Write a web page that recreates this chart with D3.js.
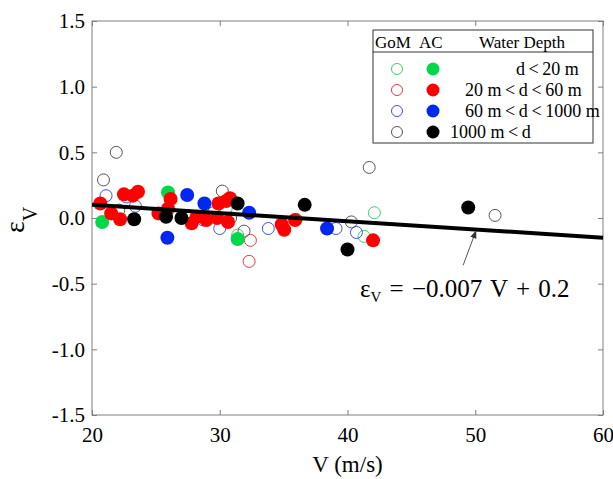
<!DOCTYPE html>
<html>
<head>
<meta charset="utf-8">
<script src="https://cdn.jsdelivr.net/npm/d3@7"></script>
<style>
  body { margin: 0; background: #fff; }
  svg text { font-family: "Liberation Serif", "Times New Roman", serif; }
</style>
</head>
<body>
<svg id="chart" width="613" height="479"></svg>
<script>
// values (V in m/s, eps dimensionless)
var xTicks = [20, 30, 40, 50, 60];
var yTicks = [-1.5, -1.0, -0.5, 0.0, 0.5, 1.0, 1.5];

// GoM = open markers, AC = filled markers
var gomShallowV = [30.5, 31.4, 36.0, 42.1, 41.3];
var gomShallowE = [0.07, -0.13, -0.01, 0.04, -0.14];
var gomMidV = [32.4, 32.3];
var gomMidE = [-0.17, -0.33];
var gomDeepV = [21.1, 22.7, 23.4, 28.7, 29.5, 30.0, 33.8, 39.1, 40.7];
var gomDeepE = [0.17, 0.16, 0.09, -0.015, 0.04, -0.08, -0.08, -0.08, -0.11];
var gomUltraV = [21.9, 20.9, 22.1, 30.2, 30.85, 31.9, 41.7, 40.3, 51.55];
var gomUltraE = [0.50, 0.29, 0.06, 0.205, 0.0, -0.10, 0.385, -0.03, 0.02];

var acShallowV = [20.8, 25.95, 31.4];
var acShallowE = [-0.03, 0.195, -0.16];
var acMidV = [20.65, 21.5, 22.2, 22.5, 23.2, 23.6, 25.2, 25.95, 26.15, 27.8, 28.2, 28.95,
              29.8, 29.9, 30.5, 30.8, 30.65, 34.85, 35.05, 35.9, 42.0];
var acMidE = [0.11, 0.035, -0.01, 0.18, 0.17, 0.20, 0.035, 0.07, 0.145, -0.04, 0.01, -0.015,
              0.0, 0.11, 0.13, 0.15, -0.03, -0.05, -0.09, -0.015, -0.17];
var acDeepV = [27.45, 28.8, 25.9, 32.3, 38.4];
var acDeepE = [0.175, 0.11, -0.15, 0.04, -0.08];
var acUltraV = [23.3, 25.8, 27.0, 31.4, 36.65, 40.0, 49.45];
var acUltraE = [-0.01, 0.01, 0.0, 0.11, 0.10, -0.24, 0.08];

// fitted line as drawn
var fitV = [20, 60];
var fitE = [0.10, -0.15];
// arrow from label to the line
var arrowV = [49.05, 50.05];
var arrowE = [-0.36, -0.10];

var depthLabels = ["d\u2009<\u200920 m", "20 m\u2009<\u2009d\u2009<\u200960 m",
                   "60 m\u2009<\u2009d\u2009<\u20091000 m", "1000 m\u2009<\u2009d"];

var openColors = ["#3fcf66", "#e23b3b", "#4050dd", "#555555"];
var fillColors = ["#00d84a", "#ff0000", "#0028f0", "#000000"];

var plotL = 92, plotR = 603, plotT = 21, plotB = 415;
var SERIF = "'Liberation Serif', 'Times New Roman', serif";

var svg = d3.select("#chart");
var x = d3.scaleLinear().domain([20, 60]).range([plotL, plotR]);
var y = d3.scaleLinear().domain([-1.5, 1.5]).range([plotB, plotT]);

function pairs(vs, es) {
    return vs.map(function(v, i) { return [v, es[i]]; });
}

// axes with inward ticks
svg.append("g").attr("transform", "translate(0," + plotB + ")")
    .call(d3.axisBottom(x).tickValues(xTicks).tickSize(-5).tickPadding(12).tickFormat(d3.format("d")));
svg.append("g").attr("transform", "translate(" + plotL + ",0)")
    .call(d3.axisLeft(y).tickValues(yTicks).tickSize(-5).tickPadding(7).tickFormat(function(d) {
        return d3.format(".1f")(d).replace("\u2212", "-");
    }));
svg.append("g").attr("transform", "translate(0," + plotT + ")")
    .call(d3.axisTop(x).tickValues(xTicks).tickSize(-5).tickFormat(""));
svg.append("g").attr("transform", "translate(" + plotR + ",0)")
    .call(d3.axisRight(y).tickValues(yTicks).tickSize(-5).tickFormat(""));

svg.selectAll(".domain").remove();
svg.selectAll(".tick line").attr("stroke", "#808080");
svg.selectAll(".tick text").attr("fill", "#000")
    .style("font-family", SERIF).style("font-size", "21px");

svg.append("rect").attr("x", plotL).attr("y", plotT)
    .attr("width", plotR - plotL).attr("height", plotB - plotT)
    .attr("fill", "none").attr("stroke", "#808080").attr("stroke-width", 1);

// axis titles
svg.append("text").attr("x", (plotL + plotR) / 2).attr("y", 472)
    .attr("text-anchor", "middle").style("font-size", "23px").text("V (m/s)");

var yl = svg.append("text").attr("transform", "translate(24,220) rotate(-90)")
    .attr("text-anchor", "middle").style("font-size", "28px");
yl.append("tspan").text("\u03b5");
yl.append("tspan").style("font-size", "20px").attr("dy", 13).text("V");

// markers
var gOpen = [[gomShallowV, gomShallowE], [gomMidV, gomMidE], [gomDeepV, gomDeepE], [gomUltraV, gomUltraE]];
var gFill = [[acShallowV, acShallowE], [acMidV, acMidE], [acDeepV, acDeepE], [acUltraV, acUltraE]];

var plot = svg.append("g");
gOpen.forEach(function(s, k) {
    plot.selectAll(null).data(pairs(s[0], s[1])).enter().append("circle")
        .attr("cx", function(d) { return x(d[0]); })
        .attr("cy", function(d) { return y(d[1]); })
        .attr("r", 6).attr("fill", "none")
        .attr("stroke", openColors[k]).attr("stroke-width", 1);
});
gFill.forEach(function(s, k) {
    plot.selectAll(null).data(pairs(s[0], s[1])).enter().append("circle")
        .attr("cx", function(d) { return x(d[0]); })
        .attr("cy", function(d) { return y(d[1]); })
        .attr("r", 7).attr("fill", fillColors[k]);
});

// regression line
svg.append("path").datum(pairs(fitV, fitE))
    .attr("d", d3.line().x(function(d) { return x(d[0]); }).y(function(d) { return y(d[1]); }))
    .attr("stroke", "#000").attr("stroke-width", 4).attr("fill", "none");

// arrow + equation
svg.append("defs").append("marker").attr("id", "ah")
    .attr("viewBox", "0 0 10 10").attr("refX", 9).attr("refY", 5)
    .attr("markerWidth", 8).attr("markerHeight", 8).attr("orient", "auto")
    .append("path").attr("d", "M0,1 L10,5 L0,9 Z").attr("fill", "#333");
svg.append("line")
    .attr("x1", x(arrowV[0])).attr("y1", y(arrowE[0]))
    .attr("x2", x(arrowV[1])).attr("y2", y(arrowE[1]))
    .attr("stroke", "#555").attr("stroke-width", 1).attr("marker-end", "url(#ah)");

var eq = svg.append("text").attr("x", 360).attr("y", 297)
    .style("font-size", "25px").style("word-spacing", "2px");
eq.append("tspan").text("\u03b5");
eq.append("tspan").style("font-size", "15px").attr("dy", 5).text("V");
eq.append("tspan").attr("dy", -5).text(" = \u22120.007 V + 0.2");

// legend
var lg = svg.append("g");
lg.append("rect").attr("x", 373).attr("y", 30).attr("width", 220).attr("height", 113)
    .attr("fill", "#fff").attr("stroke", "#333").attr("stroke-width", 1);
lg.append("line").attr("x1", 373).attr("x2", 593).attr("y1", 52).attr("y2", 52)
    .attr("stroke", "#333");
lg.append("text").attr("x", 375).attr("y", 48).style("font-size", "17px").text("GoM");
lg.append("text").attr("x", 419).attr("y", 48).style("font-size", "17px").text("AC");
lg.append("text").attr("x", 479).attr("y", 48).style("font-size", "17px").text("Water Depth");
var rowY = [69, 90, 111, 132];
var rowX = [516, 465, 465, 450];
depthLabels.forEach(function(t, k) {
    lg.append("circle").attr("cx", 397).attr("cy", rowY[k]).attr("r", 5.5)
        .attr("fill", "none").attr("stroke", openColors[k]).attr("stroke-width", 1);
    lg.append("circle").attr("cx", 433).attr("cy", rowY[k]).attr("r", 6.5)
        .attr("fill", fillColors[k]);
    lg.append("text").attr("x", rowX[k]).attr("y", rowY[k] + 6).style("font-size", "18px").text(t);
});
</script>
</body>
</html>
